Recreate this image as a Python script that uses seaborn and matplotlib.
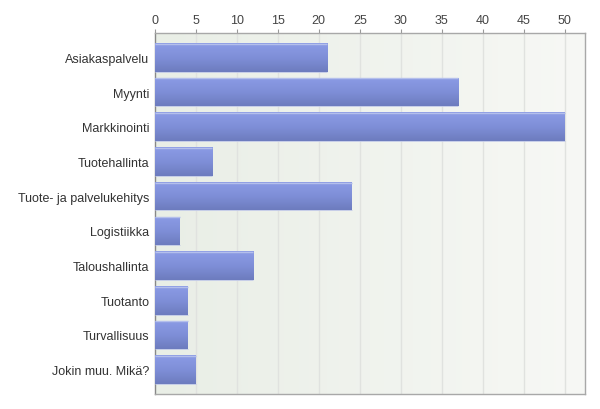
import numpy as np
import pandas as pd
import matplotlib
matplotlib.use("Agg")
import matplotlib.pyplot as plt
import seaborn as sns
from matplotlib.colors import LinearSegmentedColormap

categories = ["Asiakaspalvelu", "Myynti", "Markkinointi", "Tuotehallinta",
              "Tuote- ja palvelukehitys", "Logistiikka", "Taloushallinta",
              "Tuotanto", "Turvallisuus", "Jokin muu. Mikä?"]
values = [21, 37, 50, 7, 24, 3, 12, 4, 4, 5]
xticks = [0, 5, 10, 15, 20, 25, 30, 35, 40, 45, 50]

sns.set_theme(style="white")
plt.rcParams['font.family'] = ['Liberation Sans', 'DejaVu Sans']

df = pd.DataFrame({"cat": categories, "val": values})

fig = plt.figure(figsize=(6, 4.1), dpi=100)
ax = fig.add_axes([155/600, 1-395/410, (585-155)/600, (395-34)/410])

sns.barplot(data=df, x="val", y="cat", orient="h", ax=ax, width=0.82,
            color="#7a8ad2", edgecolor="none", zorder=3)

ax.set_xlim(0, 52.5)
ax.set_ylim(9.7, -0.7)

# background gradient
bg = LinearSegmentedColormap.from_list("bg", ["#e9eee6", "#f7f8f5"])
grad = np.linspace(0, 1, 256).reshape(1, -1)
ax.imshow(grad, cmap=bg, aspect="auto", extent=[0, 52.5, 9.7, -0.7],
          zorder=0, interpolation="bicubic")

# bar gradients
barcm = LinearSegmentedColormap.from_list("bar", ["#8b9be5", "#7f8fd8", "#6d7cbe"])
vgrad = np.linspace(0, 1, 64).reshape(-1, 1)
for p in list(ax.patches):
    x0, y0 = p.get_x(), p.get_y()
    w, h = p.get_width(), p.get_height()
    im = ax.imshow(vgrad, cmap=barcm, aspect="auto",
                   extent=[x0, x0 + w, y0 + h, y0], zorder=4,
                   interpolation="bicubic")
    im.set_clip_path(p)
    ax.plot([x0, x0 + w], [y0 + 0.02, y0 + 0.02], color="#b4bfec", lw=1.0, zorder=5,
            solid_capstyle="butt")
    ax.plot([x0, x0 + w], [y0 + h, y0 + h], color="#c0c8e8", lw=0.6, zorder=5,
            solid_capstyle="butt")
ax.set_xlim(0, 52.5)
ax.set_ylim(9.7, -0.7)

ax.set_xticks(xticks)
ax.set_xticklabels([str(t) for t in xticks])
ax.xaxis.tick_top()
ax.tick_params(axis="x", top=True, bottom=False, length=3, width=0.8,
               color="#999999", labelsize=9, labelcolor="#444444", pad=2,
               direction="out")
ax.tick_params(axis="y", left=False, length=0, labelsize=9, labelcolor="#333333", pad=4)
for x in xticks[1:]:
    ax.axvline(x, color="#e0e2df", lw=1.0, zorder=1)

ax.set_xlabel("")
ax.set_ylabel("")
for s in ax.spines.values():
    s.set_visible(True)
    s.set_color("#a8a8a8")
    s.set_linewidth(1.0)
ax.spines["left"].set_color("#888888")

fig.savefig("out.png", dpi=100)
